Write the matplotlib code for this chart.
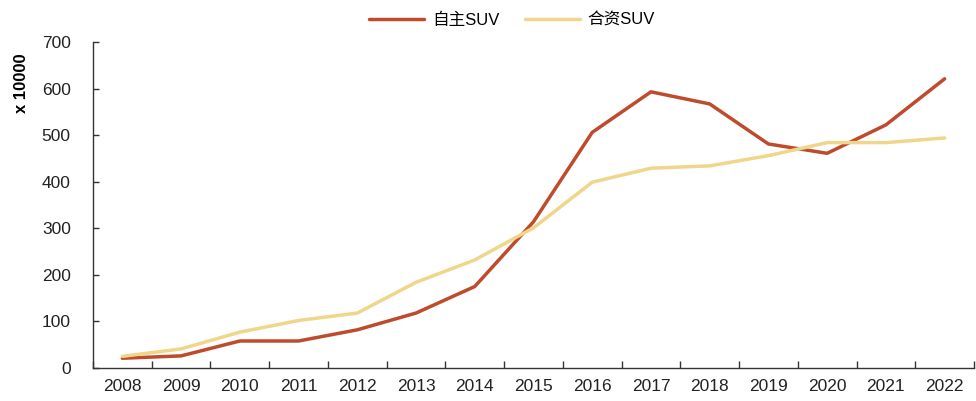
import matplotlib.pyplot as plt
import numpy as np

plt.rcParams['font.family'] = ['Liberation Sans', 'Noto Sans CJK SC', 'DejaVu Sans']

years = ['2008', '2009', '2010', '2011', '2012', '2013', '2014', '2015',
         '2016', '2017', '2018', '2019', '2020', '2021', '2022']
own_suv = [21, 26, 58, 58, 82, 118, 175, 314, 506, 593, 567, 481, 461, 522, 621]
jv_suv = [25, 41, 77, 102, 118, 184, 232, 301, 399, 429, 434, 456, 484, 484, 494]

fig = plt.figure(figsize=(9.76, 4.01), dpi=100)
ax = fig.add_axes([93/976, 33/401, 881/976, 326/401])

x = np.arange(len(years))
ax.plot(x, own_suv, color='#BE4B2C', lw=2.5, label='自主SUV', solid_capstyle='round')
ax.plot(x, jv_suv, color='#F0D68A', lw=2.5, label='合资SUV', solid_capstyle='round')

ax.set_xlim(-0.5, len(years) - 0.5)
ax.set_ylim(0, 700)
ax.set_yticks(np.arange(0, 701, 100))

# category axis: ticks between the years, labels in the middle
ax.set_xticks(np.arange(-0.5, len(years), 1.0))
ax.set_xticklabels([])
ax.set_xticks(x, minor=True)
ax.set_xticklabels(years, minor=True)
ax.tick_params(axis='x', which='major', direction='in', length=5, width=1, color='#333333')
ax.tick_params(axis='x', which='minor', length=0, pad=8, labelsize=12.5, labelcolor='#222222')
ax.tick_params(axis='y', direction='in', length=4, width=1, pad=16, labelsize=12.5,
               labelcolor='#222222', color='#333333')

for s in ['top', 'right']:
    ax.spines[s].set_visible(False)
for s in ['left', 'bottom']:
    ax.spines[s].set_color('#333333')
    ax.spines[s].set_linewidth(1)

fig.text(22/976, 1 - 83/401, 'x 10000', rotation=90, ha='center', va='center',
         fontsize=12, fontweight='bold')

fig.legend(loc='center', bbox_to_anchor=(512/976, 1 - 20/401), ncol=2, frameon=False,
           fontsize=12, handlelength=3.3, columnspacing=1.5, handletextpad=0.5)

fig.savefig('out.png', dpi=100)
